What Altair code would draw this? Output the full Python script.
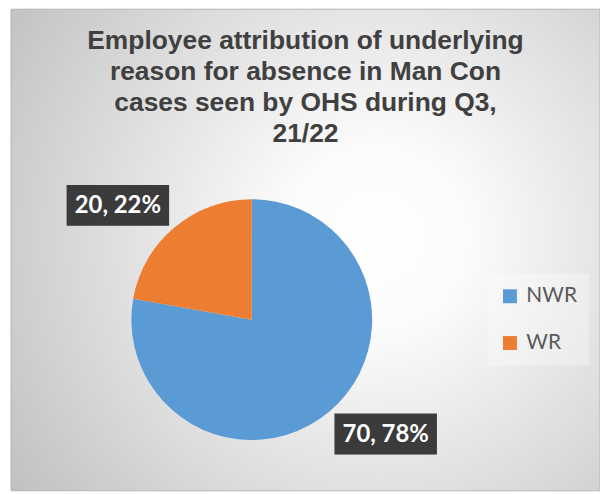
import altair as alt
import pandas as pd

# ---- data ----
CATEGORIES = ["NWR", "WR"]
VALUES = [70, 20]
COLORS = ["#5B9BD5", "#ED7D31"]
TITLE_LINES = [
    "Employee attribution of underlying",
    "reason for absence in Man Con",
    "cases seen by OHS during Q3,",
    "21/22",
]

# ---- layout constants ----
W, H = 592, 484
CX, CY, R = 242, 312, 121
LABEL_R, LABEL_SHIFT = 177, 9.5
BOX_W, BOX_H = 103, 41

df = pd.DataFrame({"category": CATEGORIES, "value": VALUES,
                   "order": list(range(len(CATEGORIES)))})

gradient = alt.RadialGradient(
    gradient="radial",
    stops=[alt.GradientStop(offset=0, color="#ffffff"),
           alt.GradientStop(offset=0.2, color="#fbfbfb"),
           alt.GradientStop(offset=1, color="#bcbcbc")],
    x1=0.62, y1=0.48, r1=0, x2=0.62, y2=0.48, r2=0.8,
)

bg = alt.Chart(pd.DataFrame({"a": [0]})).mark_rect(
    fill=gradient, stroke="#b4b4b4", strokeWidth=1
).encode(x=alt.value(0), x2=alt.value(W), y=alt.value(0), y2=alt.value(H))

title = alt.Chart(pd.DataFrame({"t": ["\n".join(TITLE_LINES)]})).mark_text(
    font="Liberation Sans", fontSize=26.5, fontWeight="bold", color="#404040",
    lineBreak="\n", lineHeight=31, baseline="alphabetic", align="center"
).encode(x=alt.value(296), y=alt.value(40), text="t:N")

pie = alt.Chart(df).mark_arc(outerRadius=R).encode(
    theta=alt.Theta("value:Q", stack=True),
    color=alt.Color(
        "category:N",
        scale=alt.Scale(domain=CATEGORIES, range=COLORS),
        legend=alt.Legend(
            orient="none", legendX=479, legendY=266, title=None,
            symbolType="square", symbolSize=196, symbolStrokeWidth=0,
            symbolOpacity=1, labelFont="Lato", labelFontSize=21,
            labelColor="#595959", labelOffset=6, rowPadding=25,
            padding=12, fillColor="rgba(255,255,255,0.3)",
        ),
    ),
    order=alt.Order("order:Q"),
    x=alt.value(CX), y=alt.value(CY),
)

lab = alt.Chart(df).transform_joinaggregate(
    total="sum(value)"
).transform_window(
    cum="sum(value)", sort=[alt.SortField("order")], frame=[None, 0]
).transform_calculate(
    mid=f"2*PI*(datum.cum - datum.value/2)/datum.total - {LABEL_SHIFT}*PI/180",
    lx=f"{CX} + {LABEL_R}*sin(datum.mid)",
    ly=f"{CY} - {LABEL_R}*cos(datum.mid)",
    x0=f"datum.lx - {BOX_W / 2}",
    x1=f"datum.lx + {BOX_W / 2}",
    y0=f"datum.ly - {BOX_H / 2}",
    y1=f"datum.ly + {BOX_H / 2}",
    label="datum.value + ', ' + round(100*datum.value/datum.total) + '%'",
)

box_enc = dict(
    x=alt.X("x0:Q", scale=None, axis=None), x2="x1:Q",
    y=alt.Y("y0:Q", scale=None, axis=None), y2="y1:Q",
)
shadow = lab.mark_rect(fill="#000000", opacity=0.18, xOffset=3, yOffset=3).encode(**box_enc)
box = lab.mark_rect(fill="#3b3b3b").encode(**box_enc)
text = lab.mark_text(
    font="Lato", fontWeight="bold", fontSize=24, color="white",
    baseline="middle", align="center", dy=1
).encode(
    x=alt.X("lx:Q", scale=None, axis=None),
    y=alt.Y("ly:Q", scale=None, axis=None),
    text="label:N",
)

chart = alt.layer(bg, title, pie, shadow, box, text).properties(
    width=W, height=H,
    autosize=alt.AutoSizeParams(type="none"),
    padding={"left": 3, "top": 0, "right": 0, "bottom": 0},
).configure_view(stroke=None)

chart.save("out.html", embed_options={"renderer": "svg", "actions": False})
